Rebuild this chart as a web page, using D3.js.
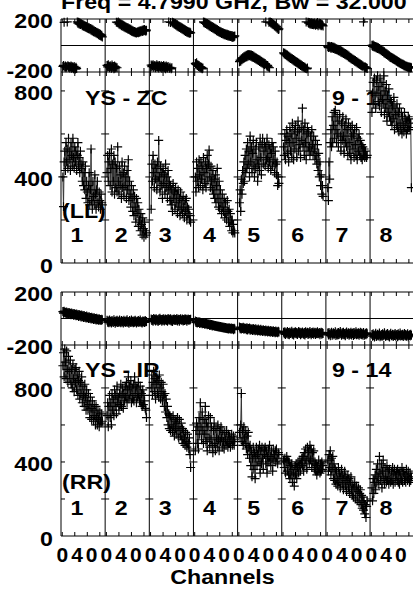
<!DOCTYPE html>
<html><head><meta charset="utf-8">
<script src="https://cdn.jsdelivr.net/npm/d3@7"></script>
<style>body{margin:0;background:#fff}svg{display:block}</style>
</head><body>
<script>
const title = "Freq = 4.7990 GHz, Bw = 32.000 MHz";
const ifLabels = ["1","2","3","4","5","6","7","8"];
const ampLabelTicks = [0, 400, 800];
const ampTicks = [200, 400, 600, 800];
const phaseLabelTicks = [200, -200];
const chanLabelTicks = [0, 40];
const chanTicks = [0, 20, 40, 60];
const channels = d3.range(1, 65);

const llAmp = [
[400,262,470,520,430,560,470,530,440,580,480,520,430,560,500,450,580,490,440,540,470,520,430,500,560,450,490,420,520,460,440,380,470,360,420,340,450,300,380,330,280,360,420,270,340,530,290,250,380,310,270,410,320,250,340,380,280,260,330,290,250,320,280,270],
[420,500,380,470,510,360,440,530,330,460,380,500,320,470,350,440,330,540,380,320,450,360,410,300,470,350,420,310,450,360,400,300,430,340,480,290,380,320,260,360,300,240,340,220,310,260,190,300,230,280,170,250,200,150,230,180,130,210,160,120,190,150,130,140],
[250,460,380,500,420,350,460,390,440,340,470,380,570,400,330,450,360,420,300,440,370,410,320,460,350,400,300,430,340,380,290,360,270,340,240,370,300,330,250,350,280,320,230,340,260,300,220,330,250,290,230,310,260,210,290,240,300,200,260,230,250,200,220,190],
[400,330,470,380,440,350,480,410,360,470,390,450,340,490,420,370,470,350,440,500,380,460,525,400,350,450,380,340,430,320,390,300,410,280,360,440,300,260,380,250,340,280,230,320,260,240,300,210,280,230,200,290,240,190,250,170,230,200,150,200,140,180,150,140],
[280,340,240,390,320,430,370,470,380,500,420,530,440,560,460,520,400,590,470,540,420,510,570,450,400,530,440,560,480,380,460,540,430,580,490,410,550,580,460,520,560,450,540,480,580,490,440,550,470,530,430,510,560,450,540,480,420,520,460,410,470,360,400,370],
[540,500,600,480,570,620,510,590,470,560,630,520,600,490,650,560,480,620,530,640,580,490,610,660,520,620,550,490,630,570,720,540,620,500,650,560,480,600,630,520,610,540,500,590,520,620,550,500,590,530,480,570,500,460,550,430,510,400,470,360,410,320,360,310],
[350,290,470,390,560,620,540,680,560,640,700,580,710,620,560,680,600,540,660,690,590,520,650,570,680,590,510,640,560,670,540,620,500,650,560,510,630,480,590,640,530,600,490,620,550,500,630,480,580,520,600,500,570,490,550,480,540,500,530,490,520,500,490,500],
[700,790,840,740,860,780,720,850,790,870,750,820,730,860,780,700,840,760,740,870,690,800,720,830,660,780,700,810,680,760,660,750,640,730,670,770,620,720,690,640,740,630,700,610,720,650,620,700,600,680,640,610,700,630,670,600,660,620,680,630,670,620,650,350]
];
const rrAmp = [
[920,990,860,1010,940,850,1000,900,830,970,890,850,950,820,900,800,930,850,780,900,830,910,790,870,760,840,890,740,830,770,860,720,810,760,700,820,750,680,790,730,680,770,710,640,750,690,630,730,670,620,710,650,600,700,640,600,680,630,590,670,620,610,660,620],
[650,720,590,700,760,640,720,600,770,680,740,650,790,700,760,660,810,720,750,680,770,710,820,700,760,800,690,770,730,810,750,830,720,790,860,740,810,760,840,720,800,740,820,730,860,770,810,720,800,750,830,760,730,810,720,770,700,790,710,760,730,690,680,640],
[800,870,760,830,890,780,850,740,820,860,770,840,750,870,800,740,830,780,730,820,760,700,770,670,740,640,700,600,660,580,650,570,640,600,560,650,590,540,630,580,620,550,640,590,530,630,570,540,610,520,580,500,570,530,490,560,510,480,550,500,470,530,440,370],
[460,570,610,500,590,470,640,550,720,590,520,670,570,500,630,550,700,510,610,460,590,650,530,480,640,520,590,490,450,570,610,500,460,580,530,480,600,520,460,570,510,590,530,480,570,510,470,560,520,490,570,510,480,550,500,540,480,520,550,490,510,540,490,520],
[560,530,600,770,510,570,490,590,530,500,570,470,540,440,560,480,420,490,380,460,320,420,480,360,450,310,430,480,380,440,470,400,490,340,460,390,480,420,360,470,440,480,390,460,340,430,470,400,490,430,380,460,420,350,470,410,440,460,400,470,420,390,450,440],
[410,370,420,340,400,430,350,410,330,400,310,380,330,390,290,360,340,270,380,330,390,310,370,400,340,380,410,350,390,420,380,430,350,450,390,470,410,360,480,420,460,390,490,410,470,370,450,400,460,360,400,350,390,330,380,350,410,360,340,390,350,400,360,380],
[410,350,440,370,460,330,420,360,430,310,390,300,360,280,350,310,270,370,290,340,260,320,360,280,330,250,310,350,270,320,240,300,330,260,310,230,290,320,250,220,280,210,260,290,200,250,270,190,240,260,180,230,250,170,220,150,210,140,190,120,170,100,160,190],
[260,190,310,230,290,330,250,360,290,390,320,280,430,340,300,390,260,350,410,310,280,370,320,290,380,300,350,280,360,310,290,350,300,370,280,340,360,290,330,350,300,360,290,340,280,350,310,300,370,290,340,350,300,330,290,360,320,300,350,310,290,340,300,320]
];
const llPhase = [
[-158,-150,175,-162,-155,-168,-160,178,-152,-165,-158,-170,-162,-155,-172,-160,-166,-175,-158,-170,-178,-165,-174,178,168,176,162,172,158,166,160,150,158,146,152,142,148,136,144,130,138,126,134,122,128,116,124,110,118,104,112,100,106,94,100,88,96,82,90,76,84,70,78,65],
[-150,-162,-145,-158,-168,-152,-160,-172,-148,-165,-158,-175,-155,-170,-162,176,-168,172,178,162,170,156,164,150,158,146,152,140,148,134,142,130,136,124,132,120,126,114,122,108,116,104,110,100,106,96,102,94,98,104,96,108,100,112,104,110,116,106,118,112,120,114,108,116],
[-148,-160,-152,-145,-165,-155,-150,-168,-158,-146,-162,-155,-170,-150,-160,-165,-152,-172,-158,-162,-150,-168,-160,-175,-155,-165,-170,-158,178,-172,-165,174,-176,-168,176,168,172,160,166,154,160,148,156,142,150,136,144,130,138,124,132,118,126,112,120,106,114,100,108,96,104,92,100,95],
[-135,-142,-130,-150,-145,-158,-150,-165,-160,-170,-165,-176,-170,178,172,176,166,170,160,166,154,160,148,156,142,150,136,144,130,138,124,132,118,126,112,120,106,114,100,108,96,104,90,98,86,94,82,90,80,86,76,84,72,82,70,78,68,76,64,74,60,70,66,72],
[-122,-110,-118,-100,-108,-92,-100,-85,-94,-80,-88,-74,-84,-70,-80,-68,-78,-70,-82,-72,-86,-76,-90,-82,-96,-88,-102,-94,-108,-100,-114,-106,-120,-112,-126,-118,-132,-124,-138,-130,-144,-136,178,-148,-156,-150,-162,175,-168,178,170,174,162,168,156,160,148,152,140,144,130,134,120,125],
[-55,-64,-58,-70,-66,-78,-72,-84,-80,-92,-86,-98,-94,-104,-100,-112,-106,-118,-114,-124,-120,-130,-126,-138,-132,-144,-140,-150,-146,-156,-152,-162,-158,-168,-164,-172,178,-176,-170,176,168,174,162,170,160,172,158,166,156,170,160,152,166,158,174,150,162,168,155,164,150,160,154,148],
[-8,-16,-6,-14,-10,-20,-8,-18,-12,-22,-14,-26,-18,-30,-24,-34,-28,-40,-32,-44,-38,-50,-42,-54,-48,-60,-54,-66,-60,-72,-66,-78,-72,-86,-80,-92,-88,-100,-94,-106,-102,-112,-108,-118,-114,-124,-120,-132,-126,-138,-134,-144,-140,-150,-146,-156,-152,178,-160,-166,-162,-170,-168,-174],
[2,-6,4,-10,-4,-14,-8,-18,-12,-22,-16,-26,-22,-32,-28,-40,-34,-46,-42,-54,-48,-60,-56,-68,-62,-74,-70,-82,-78,-90,-84,-94,-90,-100,-96,-106,-102,-112,-108,-118,-114,-124,-120,-130,-126,-136,-132,-142,-138,-146,-142,-152,-148,-156,-152,-160,-156,-164,-160,-166,-162,-170,-165,-168]
];
const rrPhase = [
[52,40,55,44,48,36,50,38,44,32,46,34,40,28,42,30,36,24,38,26,32,20,34,22,28,16,30,18,24,12,26,14,20,8,22,10,16,4,18,6,12,0,14,2,8,-4,10,-2,4,-8,6,-6,0,-12,2,-10,-4,-14,-2,-12,-8,-16,-6,-10],
[-14,-28,-18,-32,-12,-26,-20,-34,-16,-24,-30,-10,-22,-36,-18,-26,-14,-30,-20,-28,-12,-24,-32,-16,-26,-20,-34,-14,-22,-30,-18,-26,-10,-28,-22,-36,-16,-24,-30,-12,-26,-20,-32,-18,-28,-14,-24,-34,-20,-26,-16,-30,-22,-12,-28,-24,-34,-18,-26,-20,-30,-16,-24,-22],
[-4,-16,-8,-20,0,-12,-6,-18,-2,-14,-10,-22,-4,-16,2,-12,-8,-20,-6,-14,-2,-18,-10,-4,-16,-8,-20,0,-12,-6,-14,-2,-18,-10,-22,-6,-12,-4,-16,-8,-14,0,-18,-10,-6,-20,-8,-2,-14,-12,-4,-18,-8,-16,-2,-12,-6,-20,-10,-4,-14,-8,-12,-6],
[-18,-30,-22,-34,-26,-30,-24,-38,-28,-34,-30,-40,-32,-38,-34,-44,-36,-42,-38,-48,-40,-46,-42,-52,-44,-50,-46,-56,-48,-54,-50,-58,-52,-60,-54,-62,-56,-64,-58,-66,-60,-68,-62,-70,-64,-72,-66,-74,-68,-76,-70,-78,-72,-80,-70,-78,-74,-82,-72,-80,-76,-84,-74,-80],
[-64,-78,-68,-80,-70,-76,-66,-82,-72,-78,-74,-84,-70,-86,-76,-80,-72,-88,-78,-84,-80,-90,-76,-86,-82,-92,-78,-88,-84,-94,-80,-90,-86,-96,-82,-92,-88,-98,-84,-94,-90,-100,-86,-96,-92,-102,-88,-98,-94,-104,-90,-100,-96,-106,-92,-102,-98,-108,-94,-104,-100,-108,-96,-102],
[-104,-116,-100,-120,-108,-112,-98,-118,-106,-122,-102,-114,-110,-96,-118,-108,-124,-104,-112,-100,-116,-106,-120,-110,-98,-114,-104,-122,-108,-116,-102,-112,-118,-106,-124,-100,-114,-110,-104,-120,-108,-116,-98,-112,-122,-106,-114,-102,-118,-110,-104,-120,-108,-114,-100,-116,-112,-106,-122,-110,-104,-118,-108,-114],
[-110,-124,-106,-118,-130,-112,-104,-126,-116,-108,-122,-114,-100,-128,-118,-110,-124,-106,-120,-112,-98,-116,-126,-108,-118,-104,-122,-114,-130,-110,-102,-120,-116,-108,-126,-112,-118,-104,-124,-114,-110,-128,-106,-120,-116,-100,-122,-112,-118,-108,-126,-114,-104,-120,-110,-124,-116,-106,-128,-118,-112,-122,-108,-116],
[-120,-134,-116,-128,-140,-122,-112,-136,-126,-118,-132,-124,-110,-138,-128,-120,-134,-116,-130,-122,-108,-126,-136,-118,-128,-114,-132,-124,-140,-120,-112,-130,-126,-118,-136,-122,-128,-114,-134,-124,-120,-138,-116,-130,-126,-110,-132,-122,-128,-118,-136,-124,-114,-130,-120,-134,-126,-116,-138,-128,-122,-132,-118,-126]
];

// ---------------- layout ----------------
const W = 413, H = 592;
const x0 = 61, pw = 44.15, nP = 8;
const xEnd = x0 + nP * pw;
const STRETCH = 1.16;
const svg = d3.select("body").append("svg")
  .attr("width", W).attr("height", H)
  .style("font-family", "'Liberation Sans', Arial, Helvetica, sans-serif")
  .style("font-weight", "bold").style("font-size", "20px");

function stretch(sel) {
  sel.each(function () {
    const w = this.getComputedTextLength();
    d3.select(this).attr("textLength", w * STRETCH).attr("lengthAdjust", "spacingAndGlyphs");
  });
}
function label(g, x, y, s, anchor) {
  return g.append("text").attr("x", x).attr("y", y)
    .attr("text-anchor", anchor || "start").attr("fill", "#000").text(s).call(stretch);
}
const xScale = p => d3.scaleLinear().domain([-2, 68.5]).range([x0 + p * pw, x0 + (p + 1) * pw]);

const blocks = [
  { amp: llAmp, ph: llPhase, base: "YS - ZC", pol: "(LL)", range: "9 - 14",
    phTop: 19, phBot: 72, ampBot: 263, ampMax: 888, baseY: 104.5, polY: 218, numY: 242, phBotDy: 5.5 },
  { amp: rrAmp, ph: rrPhase, base: "YS - IR", pol: "(RR)", range: "9 - 14",
    phTop: 292, phBot: 345, ampBot: 536, ampMax: 1032, baseY: 377, polY: 489, numY: 515, phBotDy: 9 }
];

// title
label(svg, 61, 8.5, title);

const frame = svg.append("g").attr("stroke", "#000").attr("stroke-width", 1).attr("fill", "none");
const texts = svg.append("g");
const marks = svg.append("g");

blocks.forEach(b => {
  const yP = d3.scaleLinear().domain([-200, 200]).range([b.phBot, b.phTop]);
  const yA = d3.scaleLinear().domain([0, b.ampMax]).range([b.ampBot, b.phBot]);

  [b.phTop, b.phBot, b.ampBot, yP(0)].forEach(y =>
    frame.append("line").attr("x1", x0).attr("x2", xEnd).attr("y1", y).attr("y2", y));
  d3.range(0, nP).forEach(p => {
    const x = x0 + p * pw;
    frame.append("line").attr("x1", x).attr("x2", x).attr("y1", b.phTop).attr("y2", b.ampBot);
  });
  d3.range(0, nP).forEach(p => {
    const xs = xScale(p);
    chanTicks.forEach(c => {
      const x = xs(c);
      frame.append("line").attr("x1", x).attr("x2", x).attr("y1", b.phTop).attr("y2", b.phTop + 4);
      frame.append("line").attr("x1", x).attr("x2", x).attr("y1", b.phBot - 4).attr("y2", b.phBot + 4);
      frame.append("line").attr("x1", x).attr("x2", x).attr("y1", b.ampBot - 4).attr("y2", b.ampBot);
    });
  });
  ampTicks.forEach(v => {
    const y = yA(v);
    frame.append("line").attr("x1", x0).attr("x2", x0 + 4).attr("y1", y).attr("y2", y);
    d3.range(1, nP).forEach(p => {
      const x = x0 + p * pw;
      frame.append("line").attr("x1", x - 4).attr("x2", x + 4).attr("y1", y).attr("y2", y);
    });
  });

  phaseLabelTicks.forEach(v => label(texts, 53, yP(v) + (v < 0 ? b.phBotDy : 9), String(v), "end"));
  ampLabelTicks.forEach(v => label(texts, 53, yA(v) + 9.5, String(v), "end"));

  label(texts, 85, b.baseY, b.base);
  label(texts, 332, b.baseY, b.range);
  label(texts, 62, b.polY, b.pol);
  ifLabels.forEach((s, p) => label(texts, x0 + p * pw + 16, b.numY, s, "middle"));

  for (let p = 0; p < nP; p++) {
    const xs = xScale(p);
    const ampPts = channels.map((c, i) => ({ c, v: b.amp[p][i] }));
    const phPts = channels.map((c, i) => ({ c, v: b.ph[p][i] }));
    marks.append("path").attr("fill", "none").attr("stroke", "#333").attr("stroke-width", 1)
      .attr("d", d3.line().x(d => xs(d.c)).y(d => yA(d.v))(ampPts));
    const segs = [];
    let cur = [phPts[0]];
    for (let i = 1; i < phPts.length; i++) {
      if (Math.abs(phPts[i].v - phPts[i - 1].v) > 180) { segs.push(cur); cur = []; }
      cur.push(phPts[i]);
    }
    segs.push(cur);
    segs.forEach(s => marks.append("path").attr("fill", "none").attr("stroke", "#333").attr("stroke-width", 1)
      .attr("d", d3.line().x(d => xs(d.c)).y(d => yP(d.v))(s)));
    const cross = (pts, ys) => pts.map(d => {
      const X = xs(d.c), Y = ys(d.v);
      return `M${X - 4.5},${Y}h9M${X},${Y - 4.5}v9`;
    }).join("");
    marks.append("path").attr("fill", "none").attr("stroke", "#000").attr("stroke-width", 1.2)
      .attr("d", cross(ampPts, yA));
    marks.append("path").attr("fill", "none").attr("stroke", "#000").attr("stroke-width", 1.2)
      .attr("d", cross(phPts, yP));
  }
});

// channel tick labels: digits on an even pitch, as in the reference
const digitPitch = pw / 3;
for (let p = 0; p < nP; p++) {
  const xs = xScale(p);
  const c0 = xs(chanLabelTicks[0]);
  texts.append("text").attr("x", c0).attr("y", 562).attr("text-anchor", "middle")
    .style("font-size", "21px").text(String(chanLabelTicks[0]));
  texts.append("text").attr("x", `${c0 + digitPitch} ${c0 + 2 * digitPitch}`).attr("y", 562)
    .attr("text-anchor", "middle").style("font-size", "21px").text(String(chanLabelTicks[1]));
}
label(texts, 222.5, 584, "Channels", "middle");
</script>
</body></html>
